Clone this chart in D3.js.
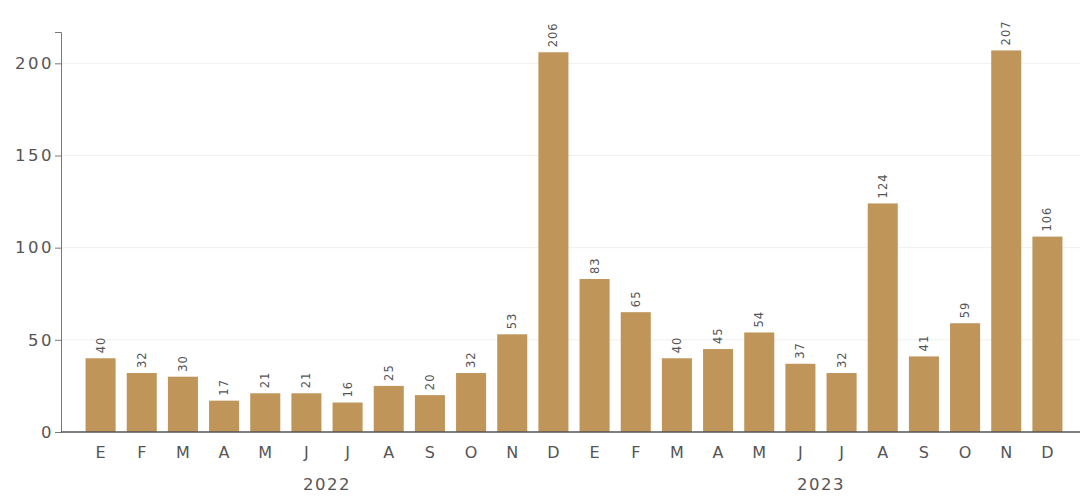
<!DOCTYPE html>
<html><head><meta charset="utf-8">
<script src="https://cdn.jsdelivr.net/npm/d3@7"></script>
<style>body{margin:0;background:#fff}svg{display:block}</style>
</head><body><svg id="c" width="1083" height="496"></svg>
<script>
const months = ["E","F","M","A","M","J","J","A","S","O","N","D","E","F","M","A","M","J","J","A","S","O","N","D"];
const years = ["2022","2023"];
const values = [40,32,30,17,21,21,16,25,20,32,53,206,83,65,40,45,54,37,32,124,41,59,207,106];
const yTicks = [0,50,100,150,200];

const svg = d3.select("#c");
const font = "'DejaVu Sans', 'Noto Sans', sans-serif";
const ids = months.map((m,i)=>i);
const x = d3.scaleBand().domain(ids).range([80,1068]).paddingInner(0.27).paddingOuter(0.135);
const y = d3.scaleLinear().domain([0,217]).range([432,32]);

// gridlines
svg.append("g").selectAll("line").data(yTicks.slice(1)).join("line")
  .attr("x1",62).attr("x2",1080).attr("y1",d=>y(d)).attr("y2",d=>y(d))
  .attr("stroke","#f0f0f0").attr("stroke-width",1);

// bars
svg.append("g").selectAll("rect").data(values).join("rect")
  .attr("x",(d,i)=>x(i)).attr("width",x.bandwidth())
  .attr("y",d=>y(d)).attr("height",d=>y(0)-y(d)).attr("fill","#c0955a");

// value labels
svg.append("g").selectAll("text").data(values).join("text")
  .attr("transform",(d,i)=>`translate(${x(i)+x.bandwidth()/2+4},${y(d)-5}) rotate(-90)`)
  .attr("text-anchor","start").attr("font-family",font).attr("font-size",11.5)
  .attr("letter-spacing",1).attr("fill","#555")
  .text(d=>d);

// y axis
const ya = svg.append("g").attr("transform","translate(61,0)")
  .call(d3.axisLeft(y).tickValues(yTicks).tickSize(6).tickPadding(1));
ya.select(".domain").attr("stroke","#777");
ya.selectAll(".tick line").attr("stroke","#777");
ya.selectAll("text").attr("font-family",font).attr("font-size",16.5)
  .attr("letter-spacing",2.5).attr("fill","#555");

// x axis line
svg.append("line").attr("x1",61).attr("x2",1080).attr("y1",y(0)).attr("y2",y(0))
  .attr("stroke","#555").attr("stroke-width",1.5);

// month labels
svg.append("g").selectAll("text").data(months).join("text")
  .attr("x",(d,i)=>x(i)+x.bandwidth()/2).attr("y",458)
  .attr("text-anchor","middle").attr("font-family",font).attr("font-size",16).attr("fill","#555")
  .text(d=>d);

// year labels
svg.append("g").selectAll("text").data(years).join("text")
  .attr("x",(d,k)=>{const a=x(k*12), b=x(k*12+11)+x.bandwidth(); return (a+b)/2;})
  .attr("y",490).attr("text-anchor","middle").attr("font-family",font).attr("font-size",16.5)
  .attr("letter-spacing",1.5).attr("fill","#555")
  .text(d=>d);
</script></body></html>
